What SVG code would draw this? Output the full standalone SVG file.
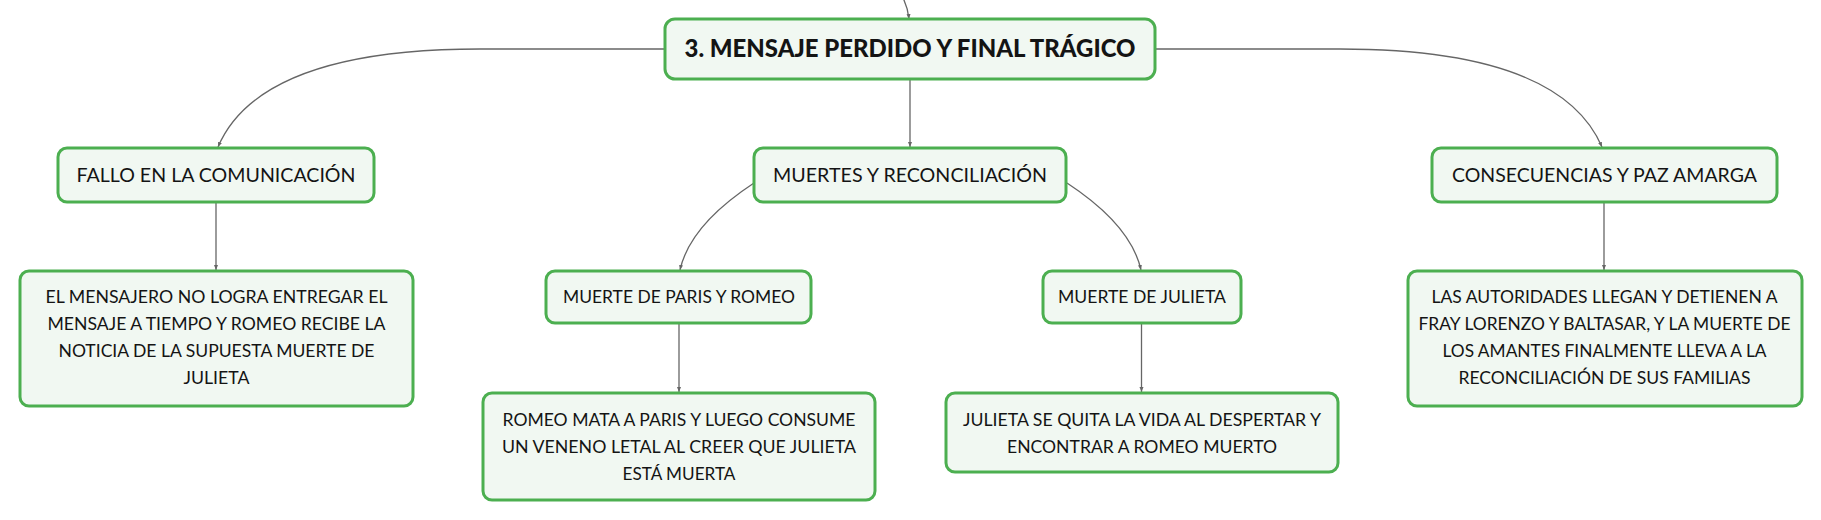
<svg xmlns="http://www.w3.org/2000/svg" width="1821" height="520" viewBox="0 0 1821 520">
<defs>
<style>
.box{fill:#f1f8f2;stroke:#4caf50;stroke-width:3}
.t{font-family:Lato,"Open Sans","Liberation Sans",sans-serif;fill:#141414;text-anchor:middle}
.root{font-size:24px;font-weight:900}
.l1{font-size:20px}
.l2{font-size:17.5px}
.d{font-size:18px}
.c{fill:none;stroke:#666;stroke-width:1.3}
</style>
<marker id="ah" markerUnits="userSpaceOnUse" markerWidth="6" markerHeight="6" refX="5" refY="2" orient="auto">
<path d="M0,0 L5,2 L0,4 z" fill="#666"/>
</marker>
</defs>
<rect width="1821" height="520" fill="#ffffff"/>
<g id="connectors">
<path class="c" d="M903,-2 Q908,8 909,19" marker-end="url(#ah)"/>
<path class="c" d="M665,49 L480,49 Q260,49 218,147" marker-end="url(#ah)"/>
<path class="c" d="M1155,49 L1340,49 Q1560,49 1602,147" marker-end="url(#ah)"/>
<path class="c" d="M910,79 L910,147" marker-end="url(#ah)"/>
<path class="c" d="M754,183 Q690,225 680,270" marker-end="url(#ah)"/>
<path class="c" d="M1067,183 Q1131,225 1141,270" marker-end="url(#ah)"/>
<path class="c" d="M216,202 L216,270" marker-end="url(#ah)"/>
<path class="c" d="M679,323 L679,392" marker-end="url(#ah)"/>
<path class="c" d="M1141.5,323 L1141.5,392" marker-end="url(#ah)"/>
<path class="c" d="M1604,202 L1604,270" marker-end="url(#ah)"/>
</g>
<g id="root">
<rect class="box" x="665" y="19" width="490" height="60" rx="10"/>
<text class="t root" x="910" y="57" textLength="451" lengthAdjust="spacingAndGlyphs">3. MENSAJE PERDIDO Y FINAL TRÁGICO</text>
</g>
<g id="fallo">
<rect class="box" x="58" y="148" width="316" height="54" rx="9"/>
<text class="t l1" x="216" y="182" textLength="279" lengthAdjust="spacingAndGlyphs">FALLO EN LA COMUNICACIÓN</text>
</g>
<g id="fallo-detalle">
<rect class="box" x="20" y="271" width="393" height="135" rx="9"/>
<text class="t d" x="216.5" y="303" textLength="342" lengthAdjust="spacingAndGlyphs">EL MENSAJERO NO LOGRA ENTREGAR EL</text>
<text class="t d" x="216.5" y="330" textLength="338" lengthAdjust="spacingAndGlyphs">MENSAJE A TIEMPO Y ROMEO RECIBE LA</text>
<text class="t d" x="216.5" y="357" textLength="316" lengthAdjust="spacingAndGlyphs">NOTICIA DE LA SUPUESTA MUERTE DE</text>
<text class="t d" x="216.5" y="384" textLength="66" lengthAdjust="spacingAndGlyphs">JULIETA</text>
</g>
<g id="muertes">
<rect class="box" x="754" y="148" width="312" height="54" rx="9"/>
<text class="t l1" x="910" y="182" textLength="274" lengthAdjust="spacingAndGlyphs">MUERTES Y RECONCILIACIÓN</text>
</g>
<g id="paris">
<rect class="box" x="546" y="271" width="265" height="52" rx="9"/>
<text class="t l2" x="679" y="303" textLength="232" lengthAdjust="spacingAndGlyphs">MUERTE DE PARIS Y ROMEO</text>
</g>
<g id="paris-detalle">
<rect class="box" x="483" y="393" width="392" height="107" rx="9"/>
<text class="t d" x="679" y="426" textLength="353" lengthAdjust="spacingAndGlyphs">ROMEO MATA A PARIS Y LUEGO CONSUME</text>
<text class="t d" x="679" y="453" textLength="354" lengthAdjust="spacingAndGlyphs">UN VENENO LETAL AL CREER QUE JULIETA</text>
<text class="t d" x="679" y="480" textLength="113" lengthAdjust="spacingAndGlyphs">ESTÁ MUERTA</text>
</g>
<g id="julieta">
<rect class="box" x="1043" y="271" width="198" height="52" rx="9"/>
<text class="t l2" x="1142" y="303" textLength="168" lengthAdjust="spacingAndGlyphs">MUERTE DE JULIETA</text>
</g>
<g id="julieta-detalle">
<rect class="box" x="946" y="393" width="392" height="79" rx="9"/>
<text class="t d" x="1142" y="426" textLength="358" lengthAdjust="spacingAndGlyphs">JULIETA SE QUITA LA VIDA AL DESPERTAR Y</text>
<text class="t d" x="1142" y="453" textLength="270" lengthAdjust="spacingAndGlyphs">ENCONTRAR A ROMEO MUERTO</text>
</g>
<g id="consecuencias">
<rect class="box" x="1432" y="148" width="345" height="54" rx="9"/>
<text class="t l1" x="1604.5" y="182" textLength="305" lengthAdjust="spacingAndGlyphs">CONSECUENCIAS Y PAZ AMARGA</text>
</g>
<g id="consecuencias-detalle">
<rect class="box" x="1408" y="271" width="394" height="135" rx="9"/>
<text class="t d" x="1604.5" y="303" textLength="346" lengthAdjust="spacingAndGlyphs">LAS AUTORIDADES LLEGAN Y DETIENEN A</text>
<text class="t d" x="1604.5" y="330" textLength="372" lengthAdjust="spacingAndGlyphs">FRAY LORENZO Y BALTASAR, Y LA MUERTE DE</text>
<text class="t d" x="1604.5" y="357" textLength="324" lengthAdjust="spacingAndGlyphs">LOS AMANTES FINALMENTE LLEVA A LA</text>
<text class="t d" x="1604.5" y="384" textLength="292" lengthAdjust="spacingAndGlyphs">RECONCILIACIÓN DE SUS FAMILIAS</text>
</g>
</svg>
